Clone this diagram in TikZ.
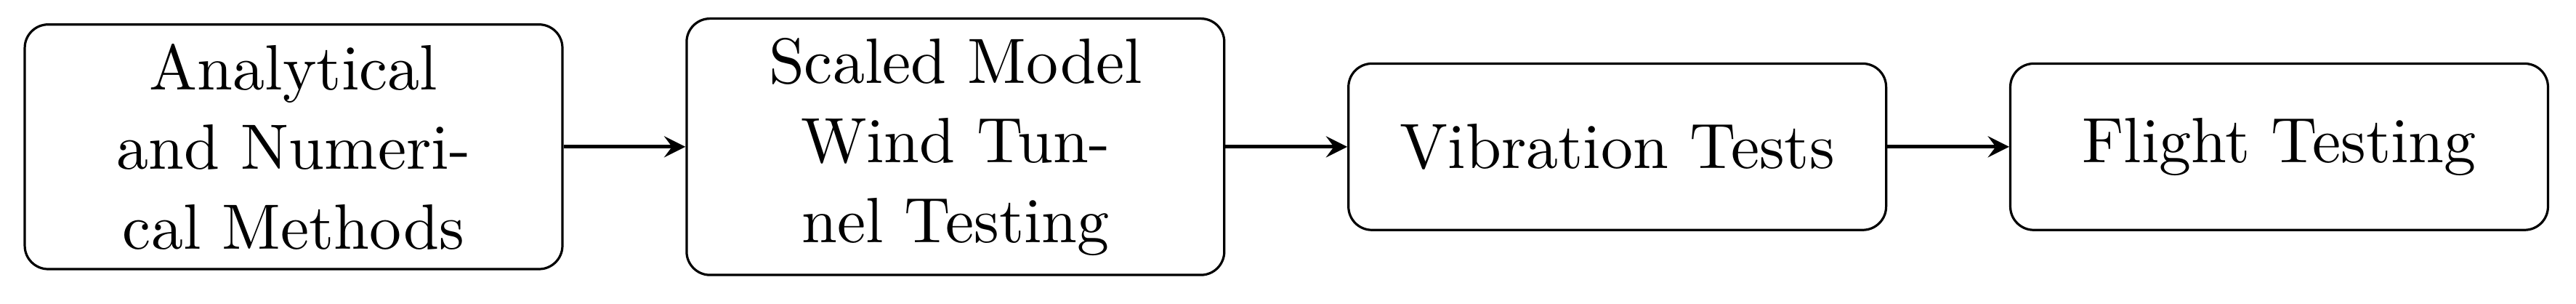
\documentclass[tikz,border=0pt]{standalone}
\usetikzlibrary{positioning}
\begin{document}
\begin{tikzpicture}[>=stealth, node distance=0.733cm]
\useasboundingbox (-50.25pt,-26.8pt) rectangle (390.65pt,25.1pt);
\tikzstyle{every node}=[draw,rounded corners,text width=3cm,align=center,minimum height=1cm,font=\fontsize{10.95pt}{13.6pt}\selectfont]
\node[rectangle](s1) at (0,0) {Analytical\\and Numeri-\\cal Methods};
\node[rectangle,right=of s1](s2) {Scaled Model\\Wind Tun-\\nel Testing};
\node[rectangle,right=of s2](s3) {Vibration Tests};
\node[rectangle,right=of s3](s4) {Flight Testing};
\draw[->,semithick] (s1) -- (s2);
\draw[->,semithick] (s2) -- (s3);
\draw[->,semithick] (s3) -- (s4);
\end{tikzpicture}
\end{document}
